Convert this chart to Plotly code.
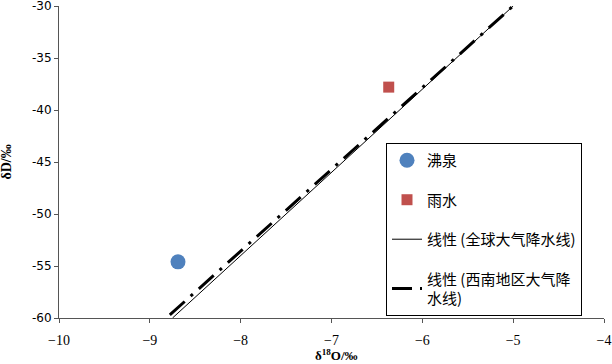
import plotly.graph_objects as go

# data
spring_x = [-8.69]
spring_y = [-54.6]
rain_x = [-6.37]
rain_y = [-37.8]
gmwl_x = [-8.75, -5.0]
gmwl_y = [-60.0, -30.0]
sw_x = [-8.78, -5.0]
sw_y = [-59.7, -30.0]

xticks = [-10, -9, -8, -7, -6, -5, -4]
xtick_text = ["−10", "−9", "−8", "−7", "−6", "−5", "−4"]
yticks = [-60, -55, -50, -45, -40, -35, -30]
ytick_text = ["-60", "-55", "-50", "-45", "-40", "-35", "-30"]

fig = go.Figure()
fig.add_trace(go.Scatter(x=spring_x, y=spring_y, mode="markers", name="沸泉",
                         legendgroup="a",
                         marker=dict(symbol="circle", size=15, color="#4F81BD")))
fig.add_trace(go.Scatter(x=rain_x, y=rain_y, mode="markers", name="雨水",
                         legendgroup="b",
                         marker=dict(symbol="square", size=11, color="#C0504D")))
fig.add_trace(go.Scatter(x=gmwl_x, y=gmwl_y, mode="lines", name="线性 (全球大气降水线)",
                         legendgroup="c",
                         line=dict(color="black", width=1)))
fig.add_trace(go.Scatter(x=sw_x, y=sw_y, mode="lines", name="线性 (西南地区大气降<br>水线)",
                         legendgroup="d",
                         line=dict(color="black", width=3, dash="20px,8px,3px,8px")))

fig.update_layout(
    width=612, height=364,
    margin=dict(l=59, r=8, t=6, b=46, autoexpand=False),
    plot_bgcolor="white", paper_bgcolor="white",
    font=dict(family="Noto Sans CJK SC", color="black", size=13),
    legend=dict(x=0.6, y=0.561, xanchor="left", yanchor="top",
                bordercolor="black", borderwidth=1, bgcolor="white",
                tracegroupgap=17,
                font=dict(family="Noto Sans CJK SC", size=15, color="black")),
    showlegend=True,
    annotations=[
        dict(text="<b>δD/‰</b>", textangle=-90, xref="paper", yref="paper",
             x=-0.098, y=0.5, xanchor="center", yanchor="middle", showarrow=False,
             font=dict(family="Liberation Serif", size=14, color="black")),
        dict(text="<b>δ<sup>18</sup>O/‰</b>", xref="paper", yref="paper",
             x=0.51, y=-0.088, xanchor="center", yanchor="top", showarrow=False,
             font=dict(family="Liberation Serif", size=13, color="black")),
    ],
)
fig.update_xaxes(range=[-10, -4], tickvals=xticks, ticktext=xtick_text, automargin=False,
                 ticklabeloverflow="allow", ticklabelstandoff=5,
                 showgrid=False, zeroline=False, showline=True, linecolor="#555555",
                 ticks="outside", ticklen=4, tickcolor="#555555",
                 tickfont=dict(family="Liberation Serif", size=14, color="black"))
fig.update_yaxes(range=[-60, -30], tickvals=yticks, ticktext=ytick_text, automargin=False,
                 ticklabeloverflow="allow",
                 showgrid=False, zeroline=False, showline=True, linecolor="#555555",
                 ticks="outside", ticklen=4, tickcolor="#555555",
                 tickfont=dict(family="DejaVu Sans", size=12, color="black"))

fig.write_html("out.html", config={"displayModeBar": False},
               post_script="document.body.style.margin='0';document.body.style.padding='0';")
